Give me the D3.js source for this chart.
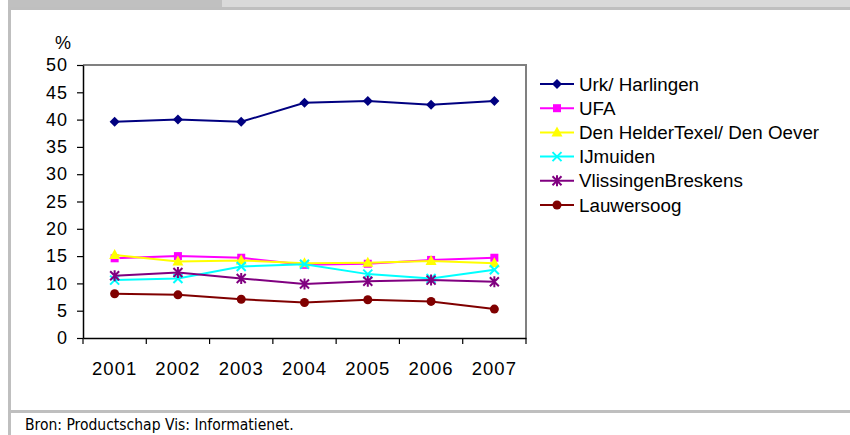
<!DOCTYPE html>
<html>
<head>
<meta charset="utf-8">
<script src="https://cdn.jsdelivr.net/npm/d3@7"></script>
<style>
  body { margin: 0; background: #fff; }
  svg { display: block; }
</style>
</head>
<body>
<div id="chart"></div>
<script>
// ---- data ----
const years = ["2001", "2002", "2003", "2004", "2005", "2006", "2007"];
const urkHarlingen   = [39.6, 40.0, 39.6, 43.1, 43.4, 42.7, 43.4];
const ufa            = [14.6, 15.0, 14.7, 13.4, 13.6, 14.3, 14.7];
const denHelder      = [15.2, 14.0, 14.2, 13.7, 13.8, 14.1, 13.7];
const ijmuiden       = [10.6, 10.9, 13.1, 13.5, 11.7, 10.9, 12.5];
const vlissingen     = [11.4, 12.0, 10.9,  9.9, 10.4, 10.6, 10.3];
const lauwersoog     = [ 8.1,  7.9,  7.1,  6.5,  7.0,  6.7,  5.3];
const yTicks = [0, 5, 10, 15, 20, 25, 30, 35, 40, 45, 50];

const series = [
    { name: "Urk/  Harlingen",            values: urkHarlingen, color: "#000080", symbol: "diamond" },
    { name: "UFA",                        values: ufa,          color: "#ff00ff", symbol: "square" },
    { name: "Den HelderTexel/ Den Oever", values: denHelder,    color: "#ffff00", symbol: "triangle" },
    { name: "IJmuiden",                   values: ijmuiden,     color: "#00ffff", symbol: "cross" },
    { name: "VlissingenBreskens",         values: vlissingen,   color: "#800080", symbol: "star" },
    { name: "Lauwersoog",                 values: lauwersoog,   color: "#800000", symbol: "circle" }
];

const W = 850, H = 435;
const plot = { left: 83, right: 526, top: 65, bottom: 338 };

const svg = d3.select("#chart").append("svg")
    .attr("width", W)
    .attr("height", H);

// page frame (report style)
svg.append("rect").attr("x", 8).attr("y", 0).attr("width", 214).attr("height", 8).attr("fill", "#c0c0c0");
svg.append("rect").attr("x", 222).attr("y", 0).attr("width", W - 222).attr("height", 8).attr("fill", "#d9d9d9");
svg.append("rect").attr("x", 8).attr("y", 7).attr("width", W - 8).attr("height", 3).attr("fill", "#bfbfbf");
svg.append("rect").attr("x", 8).attr("y", 7).attr("width", 3).attr("height", H - 7).attr("fill", "#bfbfbf");
svg.append("rect").attr("x", 8).attr("y", 410).attr("width", W - 8).attr("height", 3).attr("fill", "#bfbfbf");

svg.append("text")
    .attr("x", 25).attr("y", 430)
    .attr("font-family", "'Liberation Sans Narrow', 'DejaVu Sans Condensed', sans-serif")
    .attr("font-size", 15.5)
    .attr("fill", "#000")
    .text("Bron: Productschap Vis: Informatienet.");

// scales
const x = d3.scaleBand().domain(years).range([plot.left, plot.right]);
const y = d3.scaleLinear().domain([0, 50]).range([plot.bottom, plot.top]);

// grey frame on top and right
svg.append("path")
    .attr("d", `M${plot.left},${plot.top}H${plot.right}V${plot.bottom}`)
    .attr("fill", "none")
    .attr("stroke", "#808080")
    .attr("stroke-width", 2);

const fontAxis = "'Liberation Sans', Arial, sans-serif";

// y axis
const gY = svg.append("g")
    .attr("transform", "translate(" + plot.left + ",0)")
    .call(d3.axisLeft(y).tickValues(yTicks).tickSize(6).tickSizeOuter(0).tickPadding(9));
gY.select(".domain").attr("stroke", "#000").attr("stroke-width", 1.5);
gY.selectAll(".tick line").attr("stroke", "#000").attr("stroke-width", 1.2);
gY.selectAll(".tick text")
    .attr("font-family", fontAxis)
    .attr("font-size", 18)
    .attr("letter-spacing", 1)
    .attr("fill", "#000");

// x axis: ticks on category boundaries, labels in middle
const gX = svg.append("g")
    .attr("transform", "translate(0," + plot.bottom + ")")
    .call(d3.axisBottom(x).tickSize(0).tickPadding(24));
gX.select(".domain").attr("stroke", "#000").attr("stroke-width", 1.5);
gX.selectAll(".tick text")
    .attr("font-family", fontAxis)
    .attr("font-size", 18.5)
    .attr("letter-spacing", 1)
    .attr("fill", "#000");
const bounds = years.map(d => x(d)).concat([x(years[years.length - 1]) + x.bandwidth()]);
gX.selectAll(".bound")
    .data(bounds)
    .enter().append("line")
    .attr("class", "bound")
    .attr("x1", d => d).attr("x2", d => d)
    .attr("y1", 0).attr("y2", 6)
    .attr("stroke", "#000")
    .attr("stroke-width", 1.2);

svg.append("text")
    .attr("x", 55).attr("y", 49)
    .attr("font-family", fontAxis)
    .attr("font-size", 18)
    .attr("fill", "#000")
    .text("%");

// markers
function marker(g, symbol, color) {
    if (symbol === "diamond") {
        g.append("path").attr("d", "M0,-5L5,0L0,5L-5,0Z").attr("fill", color);
    } else if (symbol === "square") {
        g.append("rect").attr("x", -4).attr("y", -4).attr("width", 8).attr("height", 8).attr("fill", color);
    } else if (symbol === "triangle") {
        g.append("path").attr("d", "M0,-6L5.5,4L-5.5,4Z").attr("fill", color);
    } else if (symbol === "cross") {
        g.append("path").attr("d", "M-4.5,-4.5L4.5,4.5M-4.5,4.5L4.5,-4.5")
            .attr("stroke", color).attr("stroke-width", 2).attr("fill", "none");
    } else if (symbol === "star") {
        g.append("path").attr("d", "M-4.5,-4.5L4.5,4.5M-4.5,4.5L4.5,-4.5M0,-5.5L0,5.5")
            .attr("stroke", color).attr("stroke-width", 2).attr("fill", "none");
    } else {
        g.append("circle").attr("r", 4.5).attr("fill", color);
    }
}

const cx = d => x(d) + x.bandwidth() / 2;
const line = d3.line()
    .x((v, i) => cx(years[i]))
    .y(v => y(v));

series.forEach(s => {
    svg.append("path")
        .datum(s.values)
        .attr("d", line)
        .attr("fill", "none")
        .attr("stroke", s.color)
        .attr("stroke-width", 2);
    s.values.forEach((v, i) => {
        const g = svg.append("g").attr("transform", "translate(" + cx(years[i]) + "," + y(v) + ")");
        marker(g, s.symbol, s.color);
    });
});

// legend
const legend = svg.append("g").attr("transform", "translate(540,84)");
series.forEach((s, i) => {
    const row = legend.append("g").attr("transform", "translate(0," + (i * 24.2) + ")");
    row.append("line")
        .attr("x1", 0).attr("x2", 34)
        .attr("stroke", s.color).attr("stroke-width", 2);
    marker(row.append("g").attr("transform", "translate(17,0)"), s.symbol, s.color);
    row.append("text")
        .attr("x", 39).attr("y", 6.5)
        .attr("font-family", fontAxis)
        .attr("font-size", 18.8)
        .attr("fill", "#000")
        .text(s.name);
});
</script>
</body>
</html>
